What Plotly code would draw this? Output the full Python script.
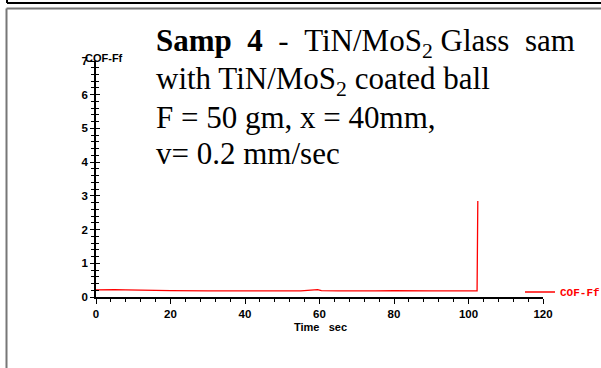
import plotly.graph_objects as go

# ---- data ----
time_sec = [0, 2, 5, 8, 12, 20, 30, 39, 45, 55, 59.5, 60.5, 65, 75, 80, 90, 100, 102.3, 102.5]
cof_ff = [0.21, 0.22, 0.22, 0.21, 0.2, 0.19, 0.18, 0.17, 0.18, 0.18, 0.22, 0.19,
          0.18, 0.18, 0.19, 0.18, 0.18, 0.18, 2.85]
x_ticks = [0, 20, 40, 60, 80, 100, 120]
y_ticks = [0, 1, 2, 3, 4, 5, 6, 7]
series_name = "COF-Ff"
note_lines = [
    "<b>Samp\u00a0\u00a04</b>\u00a0\u00a0-\u00a0\u00a0TiN/MoS<sub>2</sub> Glass\u00a0\u00a0sam",
    "with TiN/MoS<sub>2</sub> coated ball",
    "F = 50 gm, x = 40mm,",
    "v= 0.2 mm/sec",
]

W, H = 601, 368
L, R, T, B = 96, 58, 61, 71
pw, ph = W - L - R, H - T - B


def px(x):
    return (x - L) / pw


def py(y):
    return (H - B - y) / ph


fig = go.Figure()
fig.add_trace(go.Scatter(x=time_sec, y=cof_ff, mode="lines", name=series_name,
                         line=dict(color="#ff0000", width=1.3), showlegend=True))
# invisible trace for overlay axis (crossing ticks)
fig.add_trace(go.Scatter(x=[None], y=[None], yaxis="y2", showlegend=False))

tickfont = dict(family="Liberation Sans, Arial", size=11.5, color="black", weight="bold")
fig.update_layout(
    width=W, height=H,
    margin=dict(l=L, r=R, t=T, b=B, autoexpand=False),
    paper_bgcolor="white", plot_bgcolor="white",
    xaxis=dict(range=[0, 120], tickvals=x_ticks, showgrid=False, zeroline=False,
               showline=True, linecolor="black", linewidth=1.5,
               ticks="outside", ticklen=5, tickwidth=1.3, tickcolor="black",
               tickfont=tickfont, automargin=False, ticklabelstandoff=0,
               minor=dict(dtick=4, ticks="outside", ticklen=3, tickwidth=1.2, tickcolor="black")),
    yaxis=dict(range=[0, 7], tickvals=y_ticks, showgrid=False, zeroline=False,
               showline=True, linecolor="black", linewidth=1.5,
               ticks="outside", ticklen=4, tickwidth=1.3, tickcolor="black",
               tickfont=tickfont, automargin=False,
               minor=dict(dtick=0.2, ticks="outside", ticklen=3, tickwidth=1.2, tickcolor="black")),
    yaxis2=dict(range=[0, 7], overlaying="y", side="left", tickvals=y_ticks,
                showgrid=False, zeroline=False, showticklabels=False, automargin=False,
                ticks="inside", ticklen=4, tickwidth=1.3, tickcolor="black",
                minor=dict(dtick=0.2, ticks="inside", ticklen=3, tickwidth=1.2, tickcolor="black")),
    legend=dict(x=px(520), y=py(292), xanchor="left", yanchor="middle",
                bgcolor="rgba(0,0,0,0)", itemwidth=30,
                font=dict(family="Liberation Mono, Courier New", size=11, color="#ff0000", weight="bold")),
    showlegend=True,
)

# text block
baselines = [53, 91, 127, 163]
for txt, b in zip(note_lines, baselines):
    fig.add_annotation(xref="paper", yref="paper", x=px(154), y=py(b - 10),
                       xanchor="left", yanchor="middle", showarrow=False, text=txt,
                       font=dict(family="Liberation Serif, Times New Roman", size=31, color="black"))

# axis titles
fig.add_annotation(xref="paper", yref="paper", x=px(83), y=py(58), xanchor="left", yanchor="middle",
                   showarrow=False, text="<b>COF-Ff</b>",
                   font=dict(family="Liberation Sans, Arial", size=11, color="black"))
fig.add_annotation(xref="paper", yref="paper", x=px(320.5), y=py(326.5), xanchor="center", yanchor="middle",
                   showarrow=False, text="<b>Time\u00a0\u00a0\u00a0sec</b>",
                   font=dict(family="Liberation Sans, Arial", size=11, color="black"))

# page frame decorations
fig.add_shape(type="line", xref="paper", yref="paper", x0=px(7), x1=px(605), y0=py(3), y1=py(3),
              line=dict(color="black", width=2))
fig.add_shape(type="line", xref="paper", yref="paper", x0=px(7), x1=px(7), y0=py(-2), y1=py(3),
              line=dict(color="black", width=2))
fig.add_shape(type="line", xref="paper", yref="paper", x0=px(6.5), x1=px(605), y0=py(8.5), y1=py(8.5),
              line=dict(color="#777777", width=2))
fig.add_shape(type="line", xref="paper", yref="paper", x0=px(6.5), x1=px(6.5), y0=py(8.5), y1=py(372),
              line=dict(color="#777777", width=2))

fig.write_html("out.html", config={"displayModeBar": False})

# remove the default page margin so the figure sits at the window's top-left corner
with open("out.html", "r", encoding="utf-8") as f:
    html = f.read()
html = html.replace("<head>", "<head><style>html,body{margin:0;padding:0;overflow:hidden;}</style>", 1)
with open("out.html", "w", encoding="utf-8") as f:
    f.write(html)
